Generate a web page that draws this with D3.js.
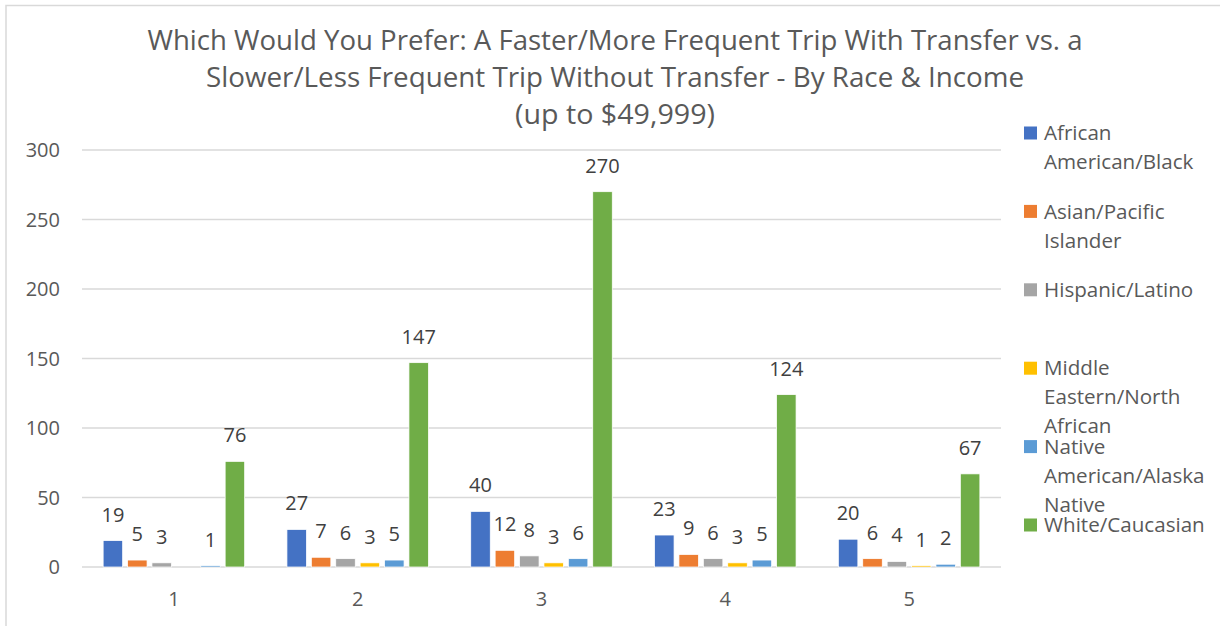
<!DOCTYPE html>
<html>
<head>
<meta charset="utf-8">
<script src="https://cdn.jsdelivr.net/npm/d3@7"></script>
<style>
  html, body { margin: 0; padding: 0; background: #fff; }
  svg { display: block; font-family: "Open Sans", "Noto Sans", sans-serif; }
</style>
</head>
<body>
<svg id="chart" width="1220" height="626"></svg>
<script>
// Survey responses by income group (1-5) and race
const categories = ["1", "2", "3", "4", "5"];
const seriesNames = [
  "African American/Black",
  "Asian/Pacific Islander",
  "Hispanic/Latino",
  "Middle Eastern/North African",
  "Native American/Alaska Native",
  "White/Caucasian"
];
const africanAmerican = [19, 27, 40, 23, 20];
const asianPacific    = [5, 7, 12, 9, 6];
const hispanicLatino  = [3, 6, 8, 6, 4];
const middleEastern   = [null, 3, 3, 3, 1];
const nativeAmerican  = [1, 5, 6, 5, 2];
const whiteCaucasian  = [76, 147, 270, 124, 67];
const yTicks = [0, 50, 100, 150, 200, 250, 300];
const titleLines = [
  "Which Would You Prefer: A Faster/More Frequent Trip With Transfer vs. a",
  "Slower/Less Frequent Trip Without Transfer - By Race & Income",
  "(up to $49,999)"
];
const colors = ["#4472C4", "#ED7D31", "#A5A5A5", "#FFC000", "#5B9BD5", "#70AD47"];

const seriesValues = [africanAmerican, asianPacific, hispanicLatino, middleEastern, nativeAmerican, whiteCaucasian];
const rows = categories.map((c, i) => ({
  cat: c,
  values: seriesNames.map((s, j) => ({ series: s, value: seriesValues[j][i], color: colors[j] }))
}));

const svg = d3.select("#chart");
const plot = { left: 82, right: 1001, top: 150, bottom: 567 };

// chart frame (left and top edges)
svg.append("path")
  .attr("d", "M6,630 L6,5.5 L1225,5.5")
  .attr("fill", "none")
  .attr("stroke", "#d9d9d9")
  .attr("stroke-width", 1.5);

const x0 = d3.scaleBand().domain(categories).range([plot.left, plot.right])
  .paddingInner(0.23).paddingOuter(0.115);
const x1 = d3.scaleBand().domain(seriesNames).range([0, x0.bandwidth()]).paddingInner(0.2);
const y = d3.scaleLinear().domain([0, 300]).range([plot.bottom, plot.top]);

// gridlines
svg.append("g").selectAll("line").data(yTicks).join("line")
  .attr("x1", plot.left).attr("x2", plot.right)
  .attr("y1", d => y(d)).attr("y2", d => y(d))
  .attr("stroke", "#d9d9d9").attr("stroke-width", 1.3);

// y axis labels
svg.append("g").selectAll("text").data(yTicks).join("text")
  .attr("x", 60).attr("y", d => y(d)).attr("dy", "0.35em")
  .attr("text-anchor", "end")
  .attr("font-size", 20).attr("fill", "#595959")
  .text(d => d);

// x axis labels
svg.append("g").selectAll("text").data(categories).join("text")
  .attr("x", d => x0(d) + x0.bandwidth() / 2).attr("y", 599).attr("dy", "0.35em")
  .attr("text-anchor", "middle")
  .attr("font-size", 20).attr("fill", "#595959")
  .text(d => d);

// bars
const groups = svg.append("g").selectAll("g").data(rows).join("g")
  .attr("transform", d => `translate(${x0(d.cat)},0)`);

groups.selectAll("rect").data(d => d.values.filter(v => v.value != null)).join("rect")
  .attr("x", d => x1(d.series))
  .attr("width", x1.bandwidth())
  .attr("y", d => y(d.value))
  .attr("height", d => y(0) - y(d.value))
  .attr("fill", d => d.color)
  .attr("stroke", "#fff").attr("stroke-width", 0.75);

// value labels
groups.selectAll("text").data(d => d.values.filter(v => v.value != null)).join("text")
  .attr("x", d => x1(d.series) + x1.bandwidth() / 2)
  .attr("y", d => y(d.value) - 19)
  .attr("text-anchor", "middle")
  .attr("font-size", 20).attr("fill", "#404040")
  .text(d => d.value);

// title
const titleWidths = [935, 818, 200];
svg.append("g").selectAll("text").data(titleLines).join("text")
  .attr("x", 615).attr("y", (d, i) => 50 + i * 37)
  .attr("text-anchor", "middle")
  .attr("font-size", 27).attr("fill", "#595959")
  .attr("textLength", (d, i) => titleWidths[i])
  .attr("lengthAdjust", "spacingAndGlyphs")
  .text(d => d);

// legend with wrapped labels
const legend = svg.append("g");
const legendFont = 20.6;
const wrapWidth = 176;
seriesNames.forEach((name, i) => {
  const cy = 133 + i * 78.4;
  const g = legend.append("g");
  g.append("rect").attr("x", 1024).attr("y", cy - 6.5).attr("width", 13).attr("height", 13)
    .attr("fill", colors[i]);
  const t = g.append("text").attr("font-size", legendFont).attr("fill", "#595959");
  const words = name.split(" ");
  let lines = [], line = [];
  const probe = svg.append("text").attr("font-size", legendFont).attr("visibility", "hidden");
  words.forEach(w => {
    const test = line.concat(w).join(" ");
    probe.text(test);
    if (line.length && probe.node().getComputedTextLength() > wrapWidth) {
      lines.push(line.join(" "));
      line = [w];
    } else {
      line.push(w);
    }
  });
  lines.push(line.join(" "));
  probe.remove();
  lines.forEach((l, k) => {
    t.append("tspan").attr("x", 1044).attr("y", cy + k * 29).attr("dy", "0.35em").text(l);
  });
});
</script>
</body>
</html>
